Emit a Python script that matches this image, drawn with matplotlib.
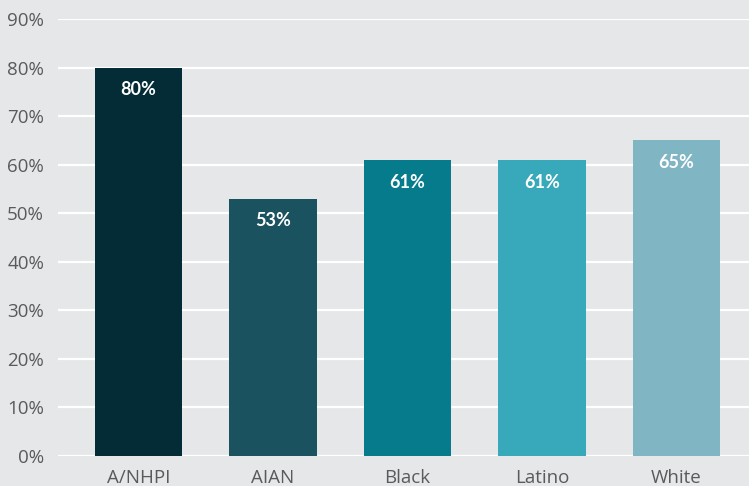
import matplotlib.pyplot as plt

groups = ['A/NHPI', 'AIAN', 'Black', 'Latino', 'White']
values = [80, 53, 61, 61, 65]
colors = ['#042c37', '#1b525f', '#067b8c', '#38a9ba', '#80b5c3']
yticks = [0, 10, 20, 30, 40, 50, 60, 70, 80, 90]

plt.rcParams['font.family'] = ['Open Sans', 'DejaVu Sans']
bg = '#e6e7e8'

fig = plt.figure(figsize=(7.49, 4.86), dpi=100, facecolor=bg)
ax = fig.add_axes([58 / 749, 30 / 486, 1 - 58 / 749, 437 / 486])
ax.set_facecolor(bg)

x = range(len(groups))
bars = ax.bar(x, values, width=0.65, color=colors, zorder=2)

for bar, v in zip(bars, values):
    ax.annotate(f'{v}%', (bar.get_x() + bar.get_width() / 2, v),
                xytext=(0, -16), textcoords='offset points',
                ha='center', va='center', color='white',
                fontsize=13, fontweight='bold', family='Lato')

ax.set_xlim(-0.6, 4.54)
ax.set_ylim(0, 90)
ax.set_yticks(yticks)
ax.set_yticklabels([f'{t}%' for t in yticks])
ax.set_xticks(list(x))
ax.set_xticklabels(groups)
ax.yaxis.grid(True, color='white', linewidth=1.6, zorder=0)
ax.set_axisbelow(True)
ax.tick_params(length=0, labelsize=13.5, colors='#5a5a5a')
ax.tick_params(axis='y', pad=10)
ax.tick_params(axis='x', pad=9)
for s in ax.spines.values():
    s.set_visible(False)

fig.savefig('out.png', dpi=100, facecolor=bg)
